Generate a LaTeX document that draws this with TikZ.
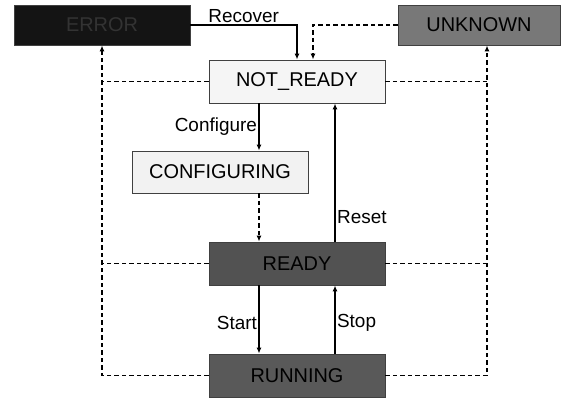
\documentclass[tikz,border=0pt]{standalone}
\usepackage{fontspec}
\setmainfont{Liberation Sans}
\usetikzlibrary{arrows.meta,calc}
\begin{document}
\begin{tikzpicture}[x=1bp,y=-1bp,
  state/.style={draw=black!75,line width=0.9bp,minimum width=176bp,minimum height=43bp,
    inner sep=0pt,font=\fontsize{20}{22}\selectfont},
  lbl/.style={font=\fontsize{19}{21}\selectfont,inner sep=1.5bp},
  conn/.style={line width=1.2bp,-{Latex[length=6bp,width=5bp]}},
  fault/.style={line width=1.2bp,dash pattern=on 4.5bp off 3bp},
  faultarrow/.style={fault,-{Latex[length=6bp,width=5bp]}}]
\useasboundingbox (0,0) rectangle (573,399);
% states
\node[state,fill=black!92,text=black!80,minimum height=40bp] (ERROR) at (102,25) {ERROR};
\node[state,fill=black!53,minimum width=162bp,minimum height=40bp] (UNKNOWN) at (479,25) {UNKNOWN};
\node[state,fill=black!4] (NOTREADY) at (297,81.5) {NOT\_READY};
\node[state,fill=black!5,minimum height=42bp] (CONFIGURING) at (220,172) {CONFIGURING};
\node[state,fill=black!68] (READY) at (297,263.5) {READY};
\node[state,fill=black!65] (RUNNING) at (297,375.5) {RUNNING};
% helper points
\coordinate (cfgtop) at ($(NOTREADY.south)+(-38,0)$);
\coordinate (rsttop) at ($(NOTREADY.south)+(38,0)$);
\coordinate (stptop) at ($(READY.south)+(38,0)$);
\coordinate (strtop) at ($(READY.south)+(-38,0)$);
\coordinate (unkin) at ($(NOTREADY.north)+(16,0)$);
\coordinate (ukbot) at ($(UNKNOWN.south)+(8,0)$);
% normal transitions
\draw[conn] (ERROR.east) -| node[lbl,pos=0.25,above] {Recover} (NOTREADY.north);
\draw[conn] (cfgtop) -- node[lbl,pos=0.5,left] {Configure} (cfgtop |- CONFIGURING.north);
\draw[faultarrow] (cfgtop |- CONFIGURING.south) -- (cfgtop |- READY.north);
\draw[conn] (rsttop |- READY.north) -- node[lbl,pos=0.18,right] {Reset} (rsttop);
\draw[conn] (strtop) -- node[lbl,pos=0.55,left] {Start} (strtop |- RUNNING.north);
\draw[conn] (stptop |- RUNNING.north) -- node[lbl,pos=0.45,right] {Stop} (stptop);
% unknown state back to not ready
\draw[faultarrow] (UNKNOWN.west) -| (unkin);
% failure paths to ERROR
\draw[faultarrow] (RUNNING.west) -| (ERROR.south);
\draw[fault] (READY.west) -- (READY.west -| ERROR.south);
\draw[fault] (NOTREADY.west) -- (NOTREADY.west -| ERROR.south);
% lost state paths to UNKNOWN
\draw[faultarrow] (RUNNING.east) -| (ukbot);
\draw[fault] (READY.east) -- (READY.east -| ukbot);
\draw[fault] (NOTREADY.east) -- (NOTREADY.east -| ukbot);
\end{tikzpicture}
\end{document}
